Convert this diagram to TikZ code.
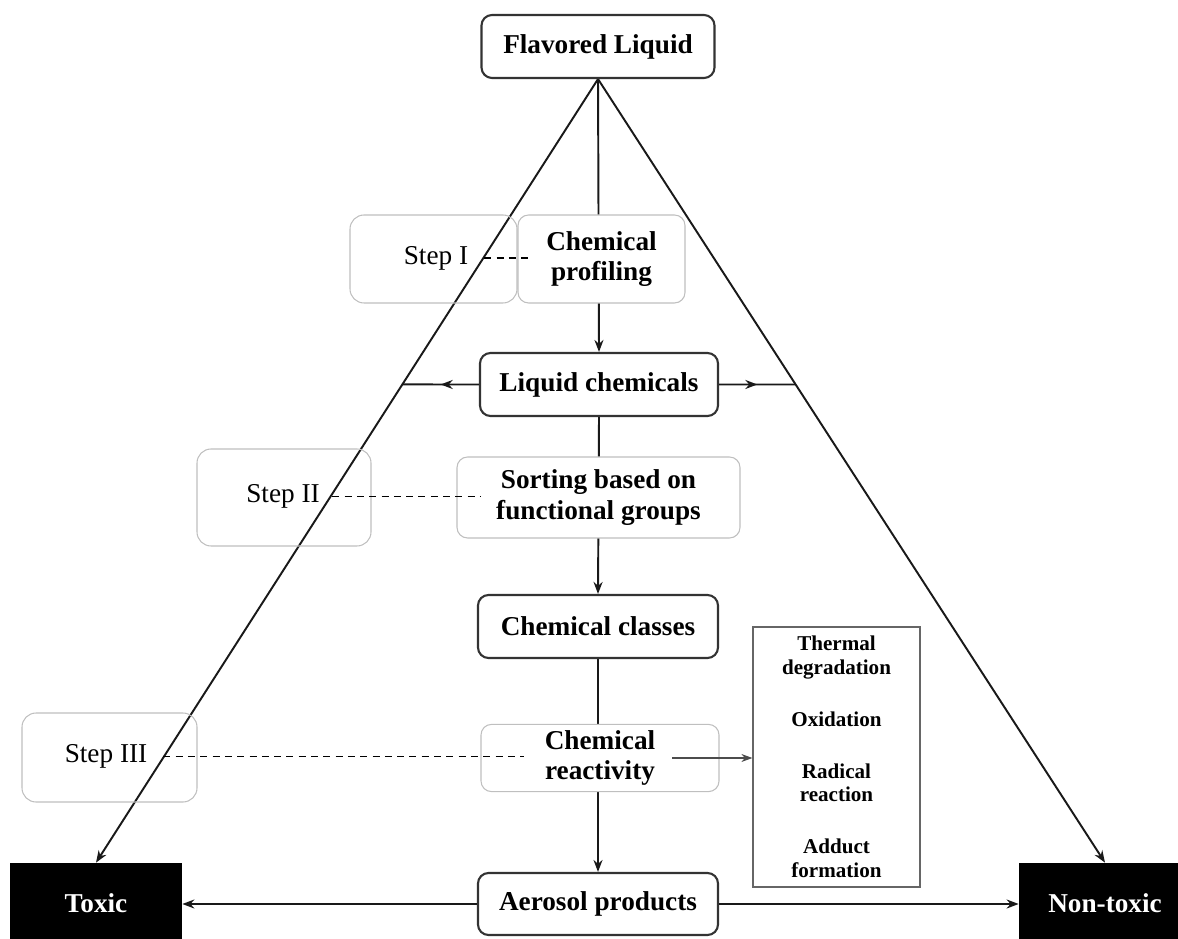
\documentclass[tikz,border=0pt]{standalone}
\usepackage{fontspec}
\setmainfont{Liberation Serif}
\usetikzlibrary{arrows.meta, decorations.markings, positioning}
\pgfdeclarelayer{background}
\pgfsetlayers{background,main}

\begin{document}
\begin{tikzpicture}[
  every node/.style={font=\fontsize{15.5}{17.5}\selectfont},
  mainbox/.style={draw=black!80, line width=1.2pt, rounded corners=6pt, fill=white, align=center, font=\fontsize{15.5}{17.5}\selectfont\bfseries},
  softbox/.style={draw=black!25, line width=0.6pt, rounded corners=6pt, fill=white, align=center, font=\fontsize{15.5}{17.5}\selectfont\bfseries},
  stepbox/.style={draw=black!25, line width=0.6pt, rounded corners=8pt},
  steplbl/.style={inner sep=0pt, font=\fontsize{15.5}{17.5}\selectfont},
  endbox/.style={fill=black, text=white, minimum width=3.44cm, minimum height=1.6cm, font=\fontsize{15.5}{17.5}\selectfont\bfseries},
  flow/.style={-{Stealth[length=2.4mm, width=1.8mm]}, line width=1.1pt, black!90},
  link/.style={dash pattern=on 4pt off 3pt, line width=0.7pt},
  midarrow/.style={line width=1.1pt, black!90, postaction={decorate},
    decoration={markings, mark=at position 0.5 with {\arrow{Stealth[length=2.4mm, width=1.8mm]}}}}
]
\useasboundingbox (0,0) rectangle (23.56,18.76);
\clip (0,0) rectangle (23.56,18.76);

% Top of the pyramid
\node[mainbox, minimum width=4.66cm, minimum height=1.26cm] (flav) at (11.96,17.83) {Flavored Liquid};

% Step I
\node[stepbox, minimum width=3.34cm, minimum height=1.76cm] (step1) at (8.67,13.58) {};
\node[steplbl] (lbl1) at (8.72,13.6) {Step I};
\node[softbox, minimum width=3.34cm, minimum height=1.76cm] (prof) at (12.03,13.58) {Chemical\\profiling};

\node[mainbox, minimum width=4.76cm, minimum height=1.26cm] (liq) at (11.98,11.07) {Liquid chemicals};

% Step II
\node[stepbox, minimum width=3.48cm, minimum height=1.94cm] (step2) at (5.68,8.81) {};
\node[steplbl] (lbl2) at (5.66,8.83) {Step II};
\node[softbox, minimum width=5.66cm, minimum height=1.62cm] (sort) at (11.97,8.81) {Sorting based on\\functional groups};

\node[mainbox, minimum width=4.8cm, minimum height=1.26cm] (cls) at (11.96,6.23) {Chemical classes};

% Step III
\node[stepbox, minimum width=3.5cm, minimum height=1.78cm] (step3) at (2.19,3.61) {};
\node[steplbl] (lbl3) at (2.12,3.63) {Step III};
\node[softbox, minimum width=4.76cm, minimum height=1.32cm] (react) at (12.0,3.6) {Chemical\\reactivity};

% Reaction types
\node[draw=black!60, line width=0.7pt, fill=white, align=center, minimum width=3.34cm, minimum height=5.2cm,
  font=\fontsize{12}{13.5}\selectfont\bfseries] (rxn) at (16.73,3.62)
  {Thermal\\degradation\\[16pt]Oxidation\\[16pt]Radical\\reaction\\[16pt]Adduct\\formation};

% Bottom row
\node[mainbox, minimum width=4.8cm, minimum height=1.24cm] (aero) at (11.96,0.68) {Aerosol products};
\node[endbox] (toxic) at (1.92,0.7) {Toxic};
\node[endbox] (nontox) at (22.1,0.7) {Non-toxic};

\begin{pgfonlayer}{background}
  % Pyramid sides
  \draw[flow] (flav.south) -- (toxic.north);
  \draw[flow] (flav.south) -- (nontox.north);
  % Centre line
  \draw[flow] (flav.south) -- (liq.north);
  \draw[flow] (liq.south) -- (cls.north);
  \draw[flow] (cls.south) -- (aero.north);
\end{pgfonlayer}

% Liquid chemicals to both sides
\draw[midarrow] (liq.west) -- (intersection of flav.south--toxic.north and liq.west--liq.east);
\draw[midarrow] (liq.east) -- (intersection of flav.south--nontox.north and liq.west--liq.east);

% Step links
\draw[link] ([xshift=9pt]lbl1.east) -- ([xshift=6pt]lbl1.east -| prof.west);
\draw[link] ([xshift=7pt]lbl2.east) -- ([xshift=14pt]lbl2.east -| sort.west);
\draw[link] ([xshift=9pt]lbl3.east) -- ([xshift=25pt]lbl3.east -| react.west);

% Reactivity to reaction types
\draw[-{Stealth[length=2.2mm, width=1.6mm]}, black!70, line width=0.6pt] ([xshift=-27pt]react.east) -- (rxn.west |- react.east);

% Aerosol to outcomes
\draw[flow] (aero.west) -- (toxic.east |- aero.west);
\draw[flow] (aero.east) -- (nontox.west |- aero.east);

\end{tikzpicture}
\end{document}
